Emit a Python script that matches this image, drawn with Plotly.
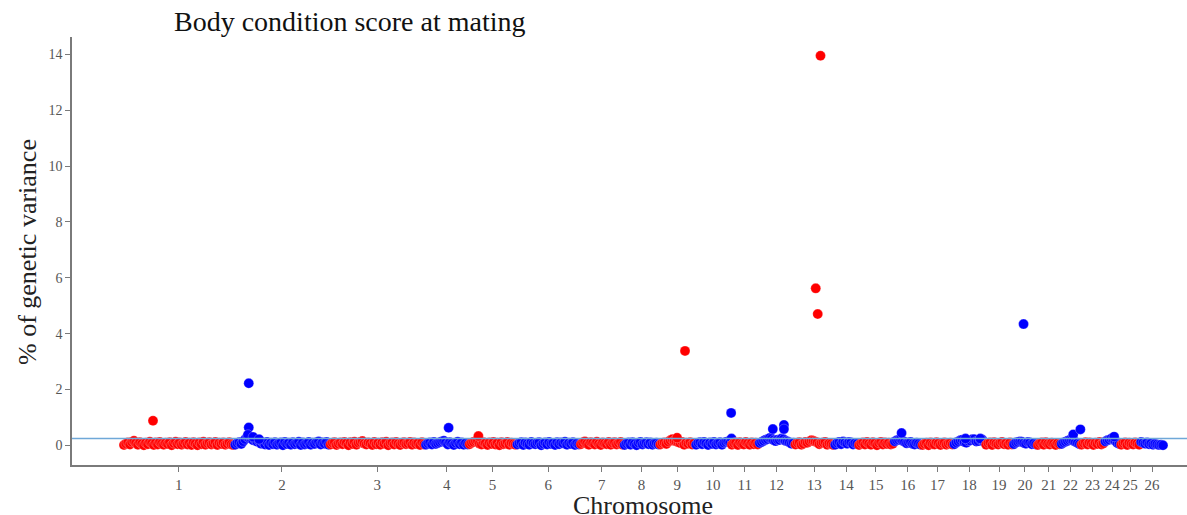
import plotly.graph_objects as go

# ---------------- data ----------------
chromosomes = [str(i) for i in range(1, 27)]

# per-chromosome SNP-window values (% of genetic variance), in genomic order
chr1 = [0.01, 0.06, 0.10, 0.03, 0.12, 0.16, 0.08, 0.02, 0.11, 0.05, 0.00, 0.09, 0.04, 0.13,
        0.07, 0.01, 0.10, 0.03, 0.12, 0.06, 0.02, 0.09, 0.05, 0.11, 0.00, 0.08, 0.13, 0.04,
        0.10, 0.02, 0.07, 0.12, 0.03, 0.09, 0.01, 0.11, 0.06, 0.00, 0.10, 0.04, 0.13, 0.02,
        0.08, 0.11, 0.03, 0.07, 0.12, 0.01, 0.09, 0.05, 0.10, 0.02, 0.06, 0.11, 0.03, 0.01]
chr2 = [0.02, 0.08, 0.11, 0.05, 0.14, 0.22, 0.30, 0.26, 0.24, 0.18, 0.20, 0.13, 0.15, 0.06,
        0.10, 0.03, 0.12, 0.01, 0.09, 0.04, 0.11, 0.02, 0.07, 0.10, 0.00, 0.12, 0.05, 0.09,
        0.02, 0.11, 0.04, 0.08, 0.13, 0.01, 0.10, 0.03, 0.07, 0.12, 0.02, 0.09, 0.05, 0.11,
        0.14, 0.03, 0.10, 0.06, 0.12, 0.02]
chr3 = [0.03, 0.09, 0.11, 0.01, 0.06, 0.10, 0.04, 0.12, 0.08, 0.00, 0.11, 0.05, 0.13, 0.02,
        0.09, 0.12, 0.15, 0.06, 0.03, 0.10, 0.07, 0.01, 0.12, 0.04, 0.09, 0.02, 0.11, 0.06,
        0.13, 0.00, 0.08, 0.10, 0.03, 0.12, 0.05, 0.01, 0.09, 0.11, 0.04, 0.07, 0.12, 0.02,
        0.10, 0.05, 0.08, 0.01, 0.11, 0.03]
chr4 = [0.02, 0.07, 0.10, 0.03, 0.12, 0.05, 0.08, 0.11, 0.14, 0.16, 0.10, 0.03, 0.11, 0.06,
        0.01, 0.09, 0.13, 0.04, 0.10, 0.02, 0.08, 0.03]
chr5 = [0.04, 0.09, 0.12, 0.15, 0.16, 0.06, 0.03, 0.11, 0.08, 0.01, 0.10, 0.05, 0.12, 0.03,
        0.09, 0.00, 0.11, 0.04, 0.07, 0.12, 0.02, 0.09, 0.05, 0.02]
chr6 = [0.03, 0.08, 0.11, 0.01, 0.10, 0.05, 0.02, 0.12, 0.07, 0.04, 0.09, 0.11, 0.00, 0.06,
        0.10, 0.03, 0.12, 0.05, 0.08, 0.01, 0.11, 0.04, 0.10, 0.07, 0.13, 0.02, 0.09, 0.05,
        0.11, 0.01, 0.07, 0.03]
chr7 = [0.04, 0.10, 0.14, 0.06, 0.02, 0.11, 0.08, 0.03, 0.13, 0.05, 0.01, 0.10, 0.07, 0.04,
        0.12, 0.02, 0.09, 0.11, 0.03, 0.08, 0.12, 0.02]
chr8 = [0.01, 0.07, 0.10, 0.02, 0.11, 0.05, 0.00, 0.09, 0.12, 0.03, 0.08, 0.11, 0.04, 0.10,
        0.02, 0.07, 0.09, 0.03]
chr9 = [0.03, 0.08, 0.10, 0.05, 0.13, 0.18, 0.22, 0.16, 0.14, 0.11, 0.08, 0.12, 0.02, 0.09,
        0.06, 0.11, 0.03, 0.08]
chr10 = [0.02, 0.09, 0.11, 0.04, 0.12, 0.07, 0.01, 0.10, 0.05, 0.12, 0.03, 0.08, 0.11, 0.02,
         0.09, 0.12, 0.14, 0.10]
chr11 = [0.02, 0.08, 0.10, 0.01, 0.11, 0.05, 0.03, 0.12, 0.07, 0.02, 0.10, 0.04, 0.09, 0.03]
chr12 = [0.08, 0.12, 0.16, 0.20, 0.22, 0.26, 0.24, 0.18, 0.15, 0.20, 0.19, 0.24, 0.22, 0.16,
         0.14, 0.10, 0.06, 0.09]
chr13 = [0.03, 0.09, 0.11, 0.02, 0.06, 0.12, 0.09, 0.14, 0.18, 0.16, 0.13, 0.10, 0.04, 0.08,
         0.10, 0.12, 0.02, 0.07, 0.05, 0.01]
chr14 = [0.02, 0.09, 0.12, 0.04, 0.14, 0.10, 0.06, 0.12, 0.10, 0.03, 0.08, 0.05]
chr15 = [0.01, 0.07, 0.10, 0.03, 0.12, 0.06, 0.02, 0.11, 0.08, 0.00, 0.09, 0.12, 0.03, 0.10,
         0.05, 0.09, 0.03, 0.06]
chr16 = [0.14, 0.18, 0.20, 0.22, 0.16, 0.12, 0.07, 0.10, 0.12, 0.05, 0.03, 0.09, 0.06, 0.02]
chr17 = [0.01, 0.06, 0.09, 0.00, 0.10, 0.04, 0.03, 0.11, 0.07, 0.01, 0.08, 0.10, 0.02, 0.06,
         0.09, 0.03]
chr18 = [0.04, 0.10, 0.14, 0.18, 0.20, 0.12, 0.09, 0.16, 0.17, 0.22, 0.22, 0.14, 0.15, 0.20,
         0.21, 0.12]
chr19 = [0.02, 0.08, 0.10, 0.01, 0.11, 0.06, 0.03, 0.09, 0.12, 0.04, 0.08, 0.02, 0.10, 0.03]
chr20 = [0.04, 0.10, 0.12, 0.14, 0.13, 0.08, 0.06, 0.12, 0.10, 0.04, 0.08, 0.03]
chr21 = [0.01, 0.07, 0.10, 0.02, 0.11, 0.05, 0.03, 0.09, 0.06, 0.01, 0.08, 0.04]
chr22 = [0.05, 0.10, 0.13, 0.16, 0.19, 0.20, 0.16, 0.12, 0.08, 0.04]
chr23 = [0.02, 0.08, 0.11, 0.03, 0.10, 0.06, 0.01, 0.09, 0.05, 0.12, 0.03, 0.07]
chr24 = [0.14, 0.18, 0.20, 0.24, 0.22, 0.16, 0.08, 0.05]
chr25 = [0.02, 0.08, 0.10, 0.01, 0.09, 0.05, 0.03, 0.10, 0.06, 0.02]
chr26 = [0.12, 0.09, 0.06, 0.10, 0.04, 0.07, 0.02, 0.05, 0.03, 0.01, 0.02, 0.00]

windows = [chr1, chr2, chr3, chr4, chr5, chr6, chr7, chr8, chr9, chr10, chr11, chr12, chr13,
           chr14, chr15, chr16, chr17, chr18, chr19, chr20, chr21, chr22, chr23, chr24, chr25, chr26]

# stand-out windows: chromosome, position within chromosome (window units), value
peak_chrom = [1, 2, 2, 2, 2, 2, 4, 5, 9, 9, 10, 10, 12, 12, 12, 13, 13, 13, 16, 18, 18, 20, 22, 22, 24]
peak_pos = [14.6, 6.8, 6.8, 6.4, 9.0, 12.0, 11.4, 4.4, 8.4, 12.4, 17.6, 17.8, 6.6, 12.2, 12.2,
            12.6, 10.2, 11.2, 3.4, 5.6, 13.0, 4.8, 5.8, 9.4, 4.4]
peak_val = [0.88, 2.22, 0.64, 0.38, 0.30, 0.22, 0.63, 0.33, 0.27, 3.38, 1.16, 0.24, 0.58, 0.73, 0.58,
            13.95, 5.62, 4.70, 0.44, 0.24, 0.24, 4.34, 0.39, 0.57, 0.31]

threshold = 0.24
y_ticks = [0, 2, 4, 6, 8, 10, 12, 14]

colors = ["#ff0000", "#0000ff"]

# ---------------- figure ----------------
fig = go.Figure()

offsets = []
o = 0
for w in windows:
    offsets.append(o)
    o += len(w)
total = o

centers = []
for ci, w in enumerate(windows):
    off = offsets[ci]
    xs = [off + i for i in range(len(w))]
    ys = list(w)
    for pc, pp, pv in zip(peak_chrom, peak_pos, peak_val):
        if pc == ci + 1:
            xs.append(off + pp)
            ys.append(pv)
    centers.append(off + (len(w) - 1) / 2)
    fig.add_trace(go.Scatter(
        x=xs, y=ys, mode="markers",
        marker=dict(color=colors[ci % 2], size=10, line=dict(color="white", width=0.25)),
        showlegend=False, hoverinfo="skip",
    ))

# pixel geometry helpers for the x range
spacing = (1163 - 124) / (total - 1)
left_pad = (124 - 72) / spacing
right_pad = (1187 - 1163) / spacing

fig.add_shape(type="line", xref="paper", yref="y", x0=0, x1=1, y0=threshold, y1=threshold,
              line=dict(color="#6fa8d8", width=1.5), layer="above")

serif = "Liberation Serif, Times New Roman, serif"

fig.update_layout(
    width=1187, height=515,
    margin=dict(l=72, r=0, t=37, b=50),
    paper_bgcolor="white", plot_bgcolor="white",
    xaxis=dict(
        range=[-left_pad, total - 1 + right_pad],
        tickmode="array", tickvals=centers, ticktext=chromosomes,
        showgrid=False, zeroline=False,
        showline=True, linecolor="#7a7a7a", linewidth=1.5,
        ticks="outside", ticklen=5, tickcolor="#7a7a7a", tickwidth=1,
        tickfont=dict(family=serif, size=15, color="#555555"),
    ),
    yaxis=dict(
        range=[-0.705, 14.62],
        tickmode="array", tickvals=y_ticks, ticktext=[str(v) for v in y_ticks],
        showgrid=False, zeroline=False,
        showline=True, linecolor="#7a7a7a", linewidth=1.5,
        ticks="outside", ticklen=5, tickcolor="#7a7a7a", tickwidth=1,
        tickfont=dict(family=serif, size=14, color="#555555"),
    ),
    font=dict(family=serif),
)

def px_to_paper_x(p):
    return (p - 72) / 1115

def px_to_paper_y(p):
    return (465 - p) / 428

annotations = [
    dict(text="Body condition score at mating", x=px_to_paper_x(172), y=px_to_paper_y(22),
         xanchor="left", yanchor="middle", font=dict(family=serif, size=28, color="#111111")),
    dict(text="Chromosome", x=px_to_paper_x(643), y=px_to_paper_y(506),
         xanchor="center", yanchor="middle", font=dict(family=serif, size=26, color="#222222")),
    dict(text="% of genetic variance", x=px_to_paper_x(28), y=px_to_paper_y(252), textangle=-90,
         xanchor="center", yanchor="middle", font=dict(family=serif, size=26, color="#222222")),
]
# cropped fragments of a larger heading above the chart
for ch, px in [("g", 133), ("y", 621), ("g", 1086)]:
    annotations.append(dict(text="<b>" + ch + "</b>", x=px_to_paper_x(px), y=px_to_paper_y(-26),
                            xanchor="center", yanchor="middle",
                            font=dict(family="Liberation Sans, Arial, sans-serif", size=48, color="black")))
for a in annotations:
    a.update(xref="paper", yref="paper", showarrow=False)
fig.update_layout(annotations=annotations)

fig.write_html(
    "out.html",
    config={"displayModeBar": False},
    post_script="document.body.style.margin='0';document.body.style.overflow='hidden';",
)
